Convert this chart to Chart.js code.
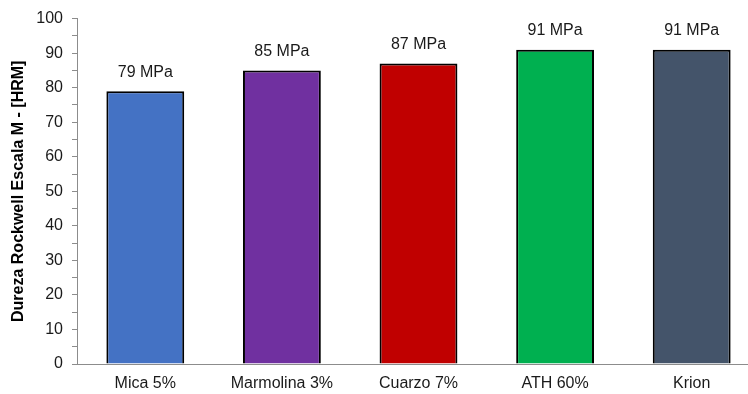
<!DOCTYPE html>
<html>
<head>
<meta charset="utf-8">
<script src="https://cdn.jsdelivr.net/npm/chart.js@4"></script>
<style>
  html, body { margin: 0; padding: 0; background: #fff; overflow: hidden; }
  #wrap { width: 760px; height: 394px; }
</style>
</head>
<body>
<div id="wrap"><canvas id="dureza"></canvas></div>
<script>
// Dureza Rockwell (escala M) por material
const MATERIALES = ["Mica 5%", "Marmolina 3%", "Cuarzo 7%", "ATH 60%", "Krion"];
const DUREZA = [79, 85, 87, 91, 91];
const COLORES = ["#4472C4", "#7030A0", "#C00000", "#00B050", "#44546A"];
const Y_TICKS = [0, 10, 20, 30, 40, 50, 60, 70, 80, 90, 100];

const FUENTE = "'Liberation Sans', Arial, sans-serif";

// Etiqueta "xx MPa" encima de cada barra
const etiquetasValor = {
  id: 'etiquetasValor',
  afterDatasetsDraw(chart) {
    const ctx = chart.ctx;
    const meta = chart.getDatasetMeta(0);
    ctx.save();
    ctx.font = `16px ${FUENTE}`;
    ctx.fillStyle = '#1a1a1a';
    ctx.textAlign = 'center';
    ctx.textBaseline = 'bottom';
    meta.data.forEach((bar, i) => {
      ctx.fillText(`${DUREZA[i]} MPa`, bar.x, bar.y - 11);
    });
    ctx.restore();
  }
};

const ctx = document.getElementById('dureza').getContext('2d');
new Chart(ctx, {
  type: 'bar',
  data: {
    labels: MATERIALES,
    datasets: [{
      data: DUREZA,
      backgroundColor: COLORES,
      borderColor: '#000',
      borderWidth: 2,
      borderSkipped: 'bottom',
      barPercentage: 0.57,
      categoryPercentage: 1
    }]
  },
  options: {
    responsive: true,
    maintainAspectRatio: false,
    animation: false,
    layout: { padding: { top: 18, right: 0, left: 0, bottom: 0 } },
    plugins: {
      legend: { display: false },
      tooltip: { enabled: false }
    },
    scales: {
      x: {
        grid: { display: false },
        border: { display: true, color: '#8c8c8c', width: 1 },
        ticks: { color: '#1a1a1a', padding: 2, font: { family: FUENTE, size: 16 } },
        afterFit(scale) { scale.height = 30; }
      },
      y: {
        min: 0,
        max: 100,
        grid: { drawOnChartArea: false, drawTicks: true, tickLength: 5, color: '#8c8c8c' },
        border: { display: true, color: '#8c8c8c', width: 1 },
        ticks: {
          stepSize: 5,
          autoSkip: false,
          padding: 9,
          color: '#1a1a1a',
          font: { family: FUENTE, size: 16 },
          callback: v => Y_TICKS.includes(v) ? v : ''
        },
        title: {
          display: true,
          text: 'Dureza Rockwell Escala M - [HRM]',
          color: '#000',
          padding: { top: 9, bottom: 2 },
          font: { family: FUENTE, size: 16, weight: 'bold' }
        },
        afterFit(scale) { scale.width = 77; }
      }
    }
  },
  plugins: [etiquetasValor]
});
</script>
</body>
</html>
